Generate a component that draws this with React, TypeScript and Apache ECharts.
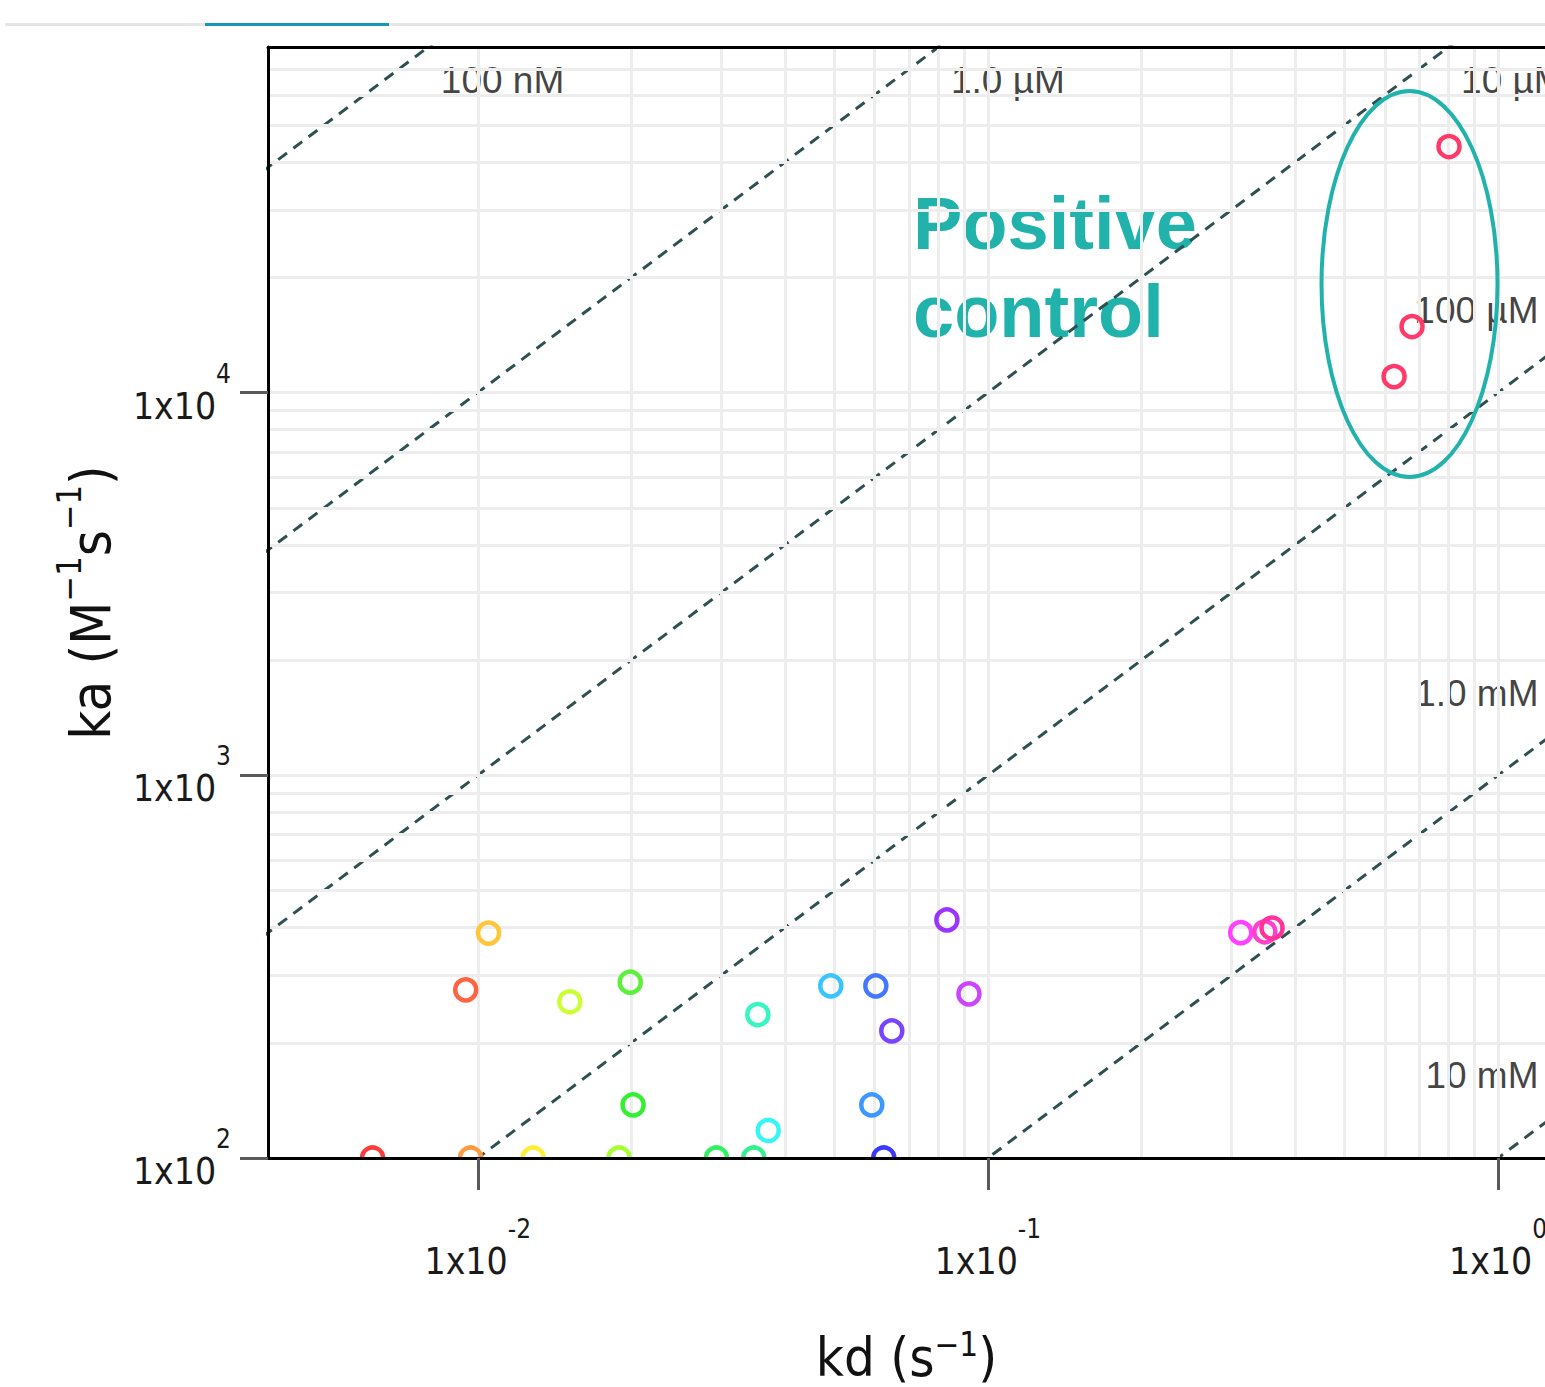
import React, { useEffect, useRef } from 'react';
import * as echarts from 'echarts';

// ---- axis ranges & ticks ----
const X_MIN = 0.00388;
const X_MAX = 1.236;
const Y_MIN = 100;
const Y_MAX = 80000;
const X_TICKS = [0.01, 0.1, 1];
const Y_TICKS = [100, 1000, 10000];
const MANTISSAS = [1, 2, 3, 4, 5, 6, 7, 8, 9];
const DECADES = [0.001, 0.01, 0.1, 1, 10, 100, 1000, 10000];

// ---- iso-affinity (KD) lines ----
const KD_VALUES = [1e-7, 1e-6, 1e-5, 1e-4, 1e-3, 1e-2];
const KD_LABELS = ['100 nM', '1.0 µM', '10 µM', '100 µM', '1.0 mM', '10 mM'];

// ---- measured samples ----
const kdValues = [
  0.00622, 0.00947, 0.00968, 0.0105, 0.01284, 0.01515, 0.01892, 0.0199, 0.02016,
  0.02937, 0.03476, 0.0354, 0.0371, 0.0492, 0.0592, 0.0603, 0.0625, 0.0648,
  0.0831, 0.0918, 0.313, 0.349, 0.3605, 0.6254, 0.6783, 0.8014,
];
const kaValues = [
  100, 275, 100, 387, 100, 256, 100, 288, 137.6,
  100, 100, 237, 118, 281.6, 137.6, 281.6, 100, 214.8,
  418.8, 268.5, 388, 390, 399, 11010, 14880, 43950,
];
const pointColors = [
  '#ff3b3b', '#ff6440', '#ff9a40', '#ffc63a', '#ffee33', '#ccff33', '#a6ff33', '#5cf03a', '#33f033',
  '#33f060', '#33f090', '#38f5c4', '#38f5f5', '#38c4ff', '#3a99ff', '#4477ff', '#3a3aff', '#7a44ff',
  '#9a33ff', '#cc44ff', '#ff40ff', '#ff40cc', '#ff3399', '#ff3a6a', '#ff3a6a', '#ff3a6a',
];

const NARROW = "'DejaVu Sans Condensed', 'DejaVu Sans', sans-serif";
const SANS = "'Liberation Sans', Arial, sans-serif";
const TEAL = '#21b3ab';

const tickRich = {
  b: { fontFamily: NARROW, fontSize: 37, color: '#1a1a1a', lineHeight: 64, verticalAlign: 'bottom' },
  s: { fontFamily: NARROW, fontSize: 26, color: '#1a1a1a', lineHeight: 26, verticalAlign: 'top' },
};
const xNameRich = {
  a: { fontFamily: NARROW, fontSize: 54, color: '#111', lineHeight: 56, verticalAlign: 'bottom' },
  sup: { fontFamily: NARROW, fontSize: 33, color: '#111', lineHeight: 33, verticalAlign: 'top' },
};
const yNameRich = {
  a: { fontFamily: NARROW, fontSize: 56, color: '#111', lineHeight: 66, verticalAlign: 'bottom' },
  sup: { fontFamily: NARROW, fontSize: 34, color: '#111', lineHeight: 34, verticalAlign: 'top' },
};

const expLabel = (v: number) => `{b|1x10}{s|${Math.round(Math.log10(v))}}`;

function buildGrid(min: number, max: number) {
  const out: number[] = [];
  DECADES.forEach((d) => MANTISSAS.forEach((m) => {
    const v = +(m * d).toPrecision(6);
    if (v >= min && v <= max) out.push(v);
  }));
  return out;
}

export default function App() {
  const ref = useRef<HTMLDivElement>(null);
  useEffect(() => {
    if (!ref.current) return;
    const chart = echarts.init(ref.current, null, { renderer: 'svg' });

    const gridLines = [
      ...buildGrid(X_MIN, X_MAX).map((v) => ({ xAxis: v })),
      ...buildGrid(Y_MIN, Y_MAX).map((v) => ({ yAxis: v })),
    ];

    const kdSeries = KD_VALUES.map((KD) => ({
      type: 'line',
      data: [[1e-4, 1e-4 / KD], [10, 10 / KD]],
      symbol: 'none',
      showSymbol: false,
      silent: true,
      clip: true,
      z: 3,
      lineStyle: { color: '#2f5050', width: 3, type: [11, 8] },
    }));

    const kdLabelItems = KD_VALUES.map((KD, i) => {
      const top = KD * Y_MAX < X_MAX;
      return top
        ? { name: KD_LABELS[i], value: [KD * Y_MAX, Y_MAX], label: { position: 'right', distance: 12, offset: [0, 33] } }
        : { name: KD_LABELS[i], value: [X_MAX, X_MAX / KD], label: { position: 'left', distance: 6, offset: [0, -47] } };
    });

    chart.setOption({
      animation: false,
      grid: { left: 268, top: 47, right: 0, bottom: 229, containLabel: false, outerBoundsMode: 'none' },
      xAxis: [
        {
          type: 'log', logBase: 10, min: X_MIN, max: X_MAX, position: 'bottom', z: 6,
          name: '{a|kd (s}{sup|−1}{a|)}', nameLocation: 'middle', nameGap: 170,
          nameTextStyle: { rich: xNameRich },
          axisLine: { show: true, onZero: false, lineStyle: { color: '#000', width: 3 } },
          axisTick: { show: true, length: 32, customValues: X_TICKS, lineStyle: { color: '#5a5a5a', width: 3 } },
          axisLabel: { show: true, margin: 58, customValues: X_TICKS, formatter: expLabel, rich: tickRich },
          splitLine: { show: false }, minorTick: { show: false }, minorSplitLine: { show: false },
        },
        {
          type: 'log', logBase: 10, min: X_MIN, max: X_MAX, position: 'top', z: 6,
          axisLine: { show: true, onZero: false, lineStyle: { color: '#000', width: 3 } },
          axisTick: { show: false }, axisLabel: { show: false }, splitLine: { show: false },
        },
      ],
      yAxis: [
        {
          type: 'log', logBase: 10, min: Y_MIN, max: Y_MAX, position: 'left', z: 6,
          name: '{a|ka (M}{sup|−1}{a|s}{sup|−1}{a|)}', nameLocation: 'middle', nameGap: 150, nameRotate: 90,
          nameTextStyle: { rich: yNameRich },
          axisLine: { show: true, onZero: false, lineStyle: { color: '#000', width: 3 } },
          axisTick: { show: true, length: 28, customValues: Y_TICKS, lineStyle: { color: '#5a5a5a', width: 3 } },
          axisLabel: { show: true, margin: 37, customValues: Y_TICKS, formatter: expLabel, rich: tickRich },
          splitLine: { show: false }, minorTick: { show: false }, minorSplitLine: { show: false },
        },
      ],
      graphic: [
        { type: 'line', z: 1, shape: { x1: 5, y1: 24.5, x2: 1545, y2: 24.5 }, style: { stroke: '#e6e6e6', lineWidth: 3 } },
        { type: 'line', z: 1, shape: { x1: 205, y1: 24.5, x2: 389, y2: 24.5 }, style: { stroke: '#1497b8', lineWidth: 3 } },
        { type: 'text', z: 2, x: 913, y: 223, style: { text: 'Positive', fill: TEAL, fontFamily: SANS, fontWeight: 'bold', fontSize: 74, verticalAlign: 'middle' } },
        { type: 'text', z: 2, x: 913, y: 311, style: { text: 'control', fill: TEAL, fontFamily: SANS, fontWeight: 'bold', fontSize: 74, verticalAlign: 'middle' } },
        { type: 'ellipse', z: 10, shape: { cx: 1409.5, cy: 284, rx: 88, ry: 193 }, style: { fill: 'none', stroke: TEAL, lineWidth: 4 } },
      ],
      series: [
        {
          type: 'line', data: [], z: 1, silent: true,
          markLine: {
            silent: true, symbol: ['none', 'none'], label: { show: false }, animation: false,
            lineStyle: { type: 'solid', color: '#ededed', width: 3 },
            emphasis: { disabled: true },
            data: gridLines,
          },
        },
        ...kdSeries,
        {
          type: 'scatter', data: kdLabelItems, symbolSize: 1, z: 4, silent: true,
          itemStyle: { color: 'rgba(0,0,0,0)' },
          label: { show: true, formatter: '{b}', fontFamily: SANS, fontSize: 37, color: '#111' },
        },
        {
          type: 'custom', clip: true, z: 5, silent: true,
          data: kdValues.map((kd, i) => [kd, kaValues[i]]),
          renderItem: (params: any, api: any) => {
            const p = api.coord([api.value(0), api.value(1)]);
            return {
              type: 'circle',
              shape: { cx: p[0], cy: p[1], r: 10.5 },
              style: { fill: 'none', stroke: pointColors[params.dataIndex], lineWidth: 4.5 },
            };
          },
        },
      ],
    });
    return () => chart.dispose();
  }, []);

  return (
    <div
      ref={ref}
      style={{ position: 'absolute', left: 0, top: 0, width: 1545, height: 1387, background: '#fff' }}
    />
  );
}
